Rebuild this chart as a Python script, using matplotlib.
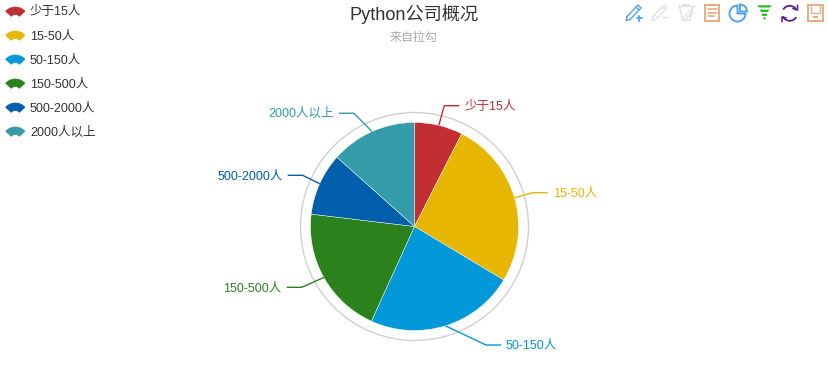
import numpy as np
from matplotlib import pyplot as plt
from matplotlib.patches import Arc, Circle, Polygon, Rectangle, Wedge

WIDTH = 829
HEIGHT = 378

categories = ['少于15人', '15-50人', '50-150人', '150-500人', '500-2000人', '2000人以上']
shares = [7.5, 26.1, 23.2, 20.1, 9.7, 13.4]
colors = ['#C12E34', '#E6B600', '#0098D9', '#2B821D', '#005EAA', '#339CA8']

plt.rcParams['font.family'] = ['Liberation Sans', 'Noto Sans CJK SC', 'DejaVu Sans']

LABEL_FONT = 9.0


def flip(y):
    return HEIGHT - y


def draw_pie(axes):
    center = (414.5, flip(226.5))
    radius = 104
    # the chart library pushes the labels apart, so the elbows are not on a common radius
    elbows = [(444.3, 105.7), (532.7, 192.7), (486, 345), (301.7, 287.3), (302.7, 175.3), (354, 113.3)]
    axes.add_patch(Circle(center, 114, fill=False, edgecolor='#D0D0D0', linewidth=1))
    axes.pie(shares, colors=colors, center=center, radius=radius, startangle=90,
             counterclock=False, frame=True,
             wedgeprops={'edgecolor': 'white', 'linewidth': 0.3})
    axes.set_xlim(0, WIDTH)
    axes.set_ylim(0, HEIGHT)
    axes.set_aspect('auto')
    total = sum(shares)
    start = 0.0
    for category, share, color, elbow in zip(categories, shares, colors, elbows):
        middle = np.radians(start + share / total * 180)
        start += share / total * 360
        dx, dy = np.sin(middle), np.cos(middle)
        side = 1 if dx > 0 else -1
        elbow_x, elbow_y = elbow[0], flip(elbow[1])
        axes.plot([center[0] + radius * dx, elbow_x, elbow_x + side * 15],
                  [center[1] + radius * dy, elbow_y, elbow_y],
                  color=color, linewidth=1, solid_capstyle='butt')
        axes.text(elbow_x + side * 20, elbow_y - 1, category, color=color, fontsize=LABEL_FONT,
                  ha='left' if side > 0 else 'right', va='center')


def draw_legend(axes):
    for index, (category, color) in enumerate(zip(categories, colors)):
        y = 11 + index * 24
        axes.add_patch(Wedge((15.3, flip(y + 9)), 13, 42, 138, width=7.5, facecolor=color,
                             edgecolor=color, linewidth=0.5))
        axes.text(30, flip(y + 1.5), category, color='#333333', fontsize=LABEL_FONT, va='center')


def stroke(axes, xs, ys, color, width=1.0):
    axes.plot(xs, [flip(y) for y in ys], color=color, linewidth=width,
              solid_capstyle='round', solid_joinstyle='round')


def draw_pencil(axes, x, color):
    stroke(axes, [x + 1, x + 12, x + 15, x + 4, x, x + 1],
           [16.5, 5, 8, 19.5, 20.5, 16.5], color)
    stroke(axes, [x + 10, x + 13], [7, 10], color)


def draw_toolbox(axes):
    orange = '#E9AC82'
    gray = '#E0E0E0'
    blue = '#4FA3F5'
    # mark, undo mark, clear mark
    draw_pencil(axes, 626, blue)
    stroke(axes, [636.8, 641.8], [18.3, 18.3], blue, 1.3)
    stroke(axes, [639.3, 639.3], [15.8, 20.8], blue, 1.3)
    draw_pencil(axes, 652, gray)
    stroke(axes, [662, 667], [17.3, 17.3], gray)
    stroke(axes, [678, 695], [6, 6], gray)
    stroke(axes, [683, 689], [4.5, 4.5], gray, 1.4)
    stroke(axes, [679.5, 682.7, 690, 692.7], [6, 20.5, 20.5, 6], gray)
    stroke(axes, [684, 691, 693, 686, 684], [17, 10, 12, 19, 19], gray)
    # data view
    axes.add_patch(Rectangle((705.5, flip(21)), 14, 16.5, fill=False, edgecolor=orange, linewidth=1.4))
    for y, end in zip([9, 12.5, 16], [717, 717, 714]):
        stroke(axes, [708, end], [y, y], orange, 1.2)
    # pie switch
    axes.add_patch(Wedge((737.5, flip(13.5)), 8, 90, 360, fill=False, edgecolor=blue, linewidth=1.4))
    axes.add_patch(Wedge((740, flip(11.5)), 7, 0, 90, fill=False, edgecolor=blue, linewidth=1.4))
    # funnel switch
    for y, half in zip([5.3, 9.7, 13.7, 17.3], [7.3, 4.7, 3, 1.2]):
        axes.add_patch(Polygon([(764.5 - half, flip(y)), (764.5 + half, flip(y)),
                                (764.5 + half * 0.75, flip(y + 2.2)), (764.5 - half * 0.75, flip(y + 2.2))],
                               facecolor='#22BB22', edgecolor='none'))
    # restore
    purple = '#5A1E96'
    axes.add_patch(Arc((789.7, flip(13.3)), 15, 15, theta1=25, theta2=150, edgecolor=purple, linewidth=1.3))
    axes.add_patch(Arc((789.7, flip(13.3)), 15, 15, theta1=205, theta2=330, edgecolor=purple, linewidth=1.3))
    stroke(axes, [793, 797.5, 797.5], [8.5, 10, 5.5], purple, 1.2)
    stroke(axes, [786, 782, 782], [18, 17, 21.5], purple, 1.2)
    # save
    axes.add_patch(Rectangle((808, flip(21)), 15, 16.5, fill=False, edgecolor=orange, linewidth=1.4))
    stroke(axes, [811, 811, 820, 820], [5, 13, 13, 5], orange)
    axes.add_patch(Rectangle((813, flip(17.5)), 5, 2, facecolor=orange, edgecolor='none'))


def main():
    figure = plt.figure(figsize=(WIDTH / 100, HEIGHT / 100), dpi=100)
    axes = figure.add_axes([0, 0, 1, 1])
    draw_pie(axes)
    draw_legend(axes)
    draw_toolbox(axes)
    axes.text(414, flip(14), 'Python公司概况', color='#333333', fontsize=13.1,
              ha='center', va='center')
    axes.text(414, flip(38), '来自拉勾', color='#AAAAAA', fontsize=8.64,
              ha='center', va='center')
    axes.axis('off')
    figure.savefig('out.png', dpi=100)
    plt.close()


main()
